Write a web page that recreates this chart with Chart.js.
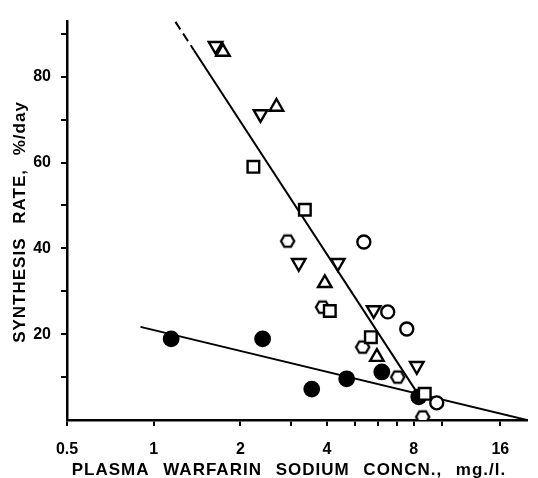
<!DOCTYPE html>
<html>
<head>
<meta charset="utf-8">
<script src="https://cdn.jsdelivr.net/npm/chart.js@4.4.0/dist/chart.umd.min.js"></script>
<style>
  body { margin: 0; background: #fff; }
  #chart { display: block; }
</style>
</head>
<body>
<canvas id="chart" width="538" height="478"></canvas>
<script>
// values (x: mg/l, log scale; y: %/day)
var xTitle = 'PLASMA WARFARIN SODIUM CONCN., mg./l.';
var yTitle = 'SYNTHESIS RATE, %/day';

var xLabelTicks = [0.5, 1, 2, 4, 8, 16];
var xMinorTicks = [3, 5, 6, 7, 10];
var yLabelTicks = [20, 40, 60, 80];
var yMinorTicks = [10, 30, 50, 70, 90];

var triDownX = [1.64, 2.35, 3.19, 4.36, 5.81, 8.2];
var triDownY = [87.2, 71.3, 36.6, 36.6, 25.6, 12.6];

var triUpX = [1.74, 2.67, 3.93, 5.96];
var triUpY = [85.8, 73.0, 31.9, 14.7];

var squareX = [2.22, 3.35, 4.09, 5.68, 8.74];
var squareY = [59.0, 49.0, 25.4, 19.3, 6.1];

var hexX = [2.92, 3.86, 5.32, 7.04, 8.6];
var hexY = [41.7, 26.3, 17.0, 10.0, 0.7];

var circleX = [5.37, 6.5, 7.57, 9.62];
var circleY = [41.5, 25.2, 21.2, 4.0];

var filledX = [1.15, 2.39, 3.54, 4.68, 6.2, 8.33];
var filledY = [18.9, 18.9, 7.2, 9.6, 11.2, 5.4];

// fitted lines
var steepDashX = [1.19, 1.38];
var steepDashY = [92.8, 86.2];
var steepX = [1.38, 8.2];
var steepY = [86.2, 6.5];
var shallowX = [0.9, 19.8];
var shallowY = [21.7, 0];

function pts(xs, ys) {
  return xs.map(function (x, i) { return { x: x, y: ys[i] }; });
}

function hexagonImage() {
  var c = document.createElement('canvas');
  c.width = 17; c.height = 17;
  var g = c.getContext('2d');
  g.beginPath();
  for (var i = 0; i < 6; i++) {
    var a = Math.PI / 3 * i;
    var px = 8.5 + 6.6 * Math.cos(a), py = 8.5 + 6.6 * Math.sin(a);
    if (i === 0) g.moveTo(px, py); else g.lineTo(px, py);
  }
  g.closePath();
  g.fillStyle = '#fff';
  g.fill();
  g.lineWidth = 2.3;
  g.strokeStyle = '#000';
  g.stroke();
  return c;
}

function markers(data, style, radius, extra) {
  var ds = {
    data: data,
    pointStyle: style,
    pointRadius: radius,
    pointBackgroundColor: '#fff',
    pointBorderColor: '#000',
    pointBorderWidth: 2.4,
    showLine: false,
    order: 1
  };
  for (var k in extra) ds[k] = extra[k];
  return ds;
}

function fitLine(data, dash) {
  return {
    data: data,
    showLine: true,
    borderColor: '#000',
    borderWidth: 2,
    borderDash: dash || [],
    pointRadius: 0,
    fill: false,
    order: 2
  };
}

var axisTitles = {
  id: 'axisTitles',
  afterDraw: function (chart) {
    var ctx = chart.ctx;
    ctx.save();
    ctx.fillStyle = '#000';
    ctx.font = 'bold 17px "Liberation Sans", Arial, sans-serif';
    ctx.letterSpacing = '1px';
    ctx.wordSpacing = '8px';
    ctx.textAlign = 'center';
    ctx.textBaseline = 'middle';
    ctx.fillText(xTitle, 289, 470);
    ctx.translate(20, 222);
    ctx.rotate(-Math.PI / 2);
    ctx.fillText(yTitle, 0, 0);
    ctx.restore();
  }
};

var tickFont = { family: '"Liberation Sans", Arial, sans-serif', size: 16, weight: 'bold' };

new Chart(document.getElementById('chart'), {
  type: 'scatter',
  data: {
    datasets: [
      fitLine(pts(steepDashX, steepDashY), [9, 5]),
      fitLine(pts(steepX, steepY)),
      fitLine(pts(shallowX, shallowY)),
      markers(pts(triDownX, triDownY), 'triangle', 7.8, { pointRotation: 180 }),
      markers(pts(triUpX, triUpY), 'triangle', 7.8),
      markers(pts(squareX, squareY), 'rect', 8.2),
      markers(pts(hexX, hexY), hexagonImage(), 7),
      markers(pts(circleX, circleY), 'circle', 6.5),
      markers(pts(filledX, filledY), 'circle', 7.2, { pointBackgroundColor: '#000' })
    ]
  },
  options: {
    responsive: false,
    animation: false,
    devicePixelRatio: 1,
    layout: { padding: { top: 21, right: 11, left: 0, bottom: 0 } },
    plugins: { legend: { display: false }, tooltip: { enabled: false } },
    scales: {
      x: {
        type: 'logarithmic',
        min: 0.5,
        max: 19.8,
        afterBuildTicks: function (s) {
          s.ticks = xLabelTicks.concat(xMinorTicks).sort(function (a, b) { return a - b; })
            .map(function (v) { return { value: v }; });
        },
        afterFit: function (s) { s.height = 58; },
        grid: { drawOnChartArea: false, drawTicks: true, tickLength: 6, color: '#000', lineWidth: 2 },
        border: { display: true, color: '#000', width: 2.5 },
        ticks: {
          autoSkip: false, maxRotation: 0, padding: 14, color: '#000', font: tickFont,
          callback: function (v) { return xLabelTicks.indexOf(v) >= 0 ? String(v) : ''; }
        },
        title: { display: false }
      },
      y: {
        min: 0,
        max: 93,
        afterBuildTicks: function (s) {
          s.ticks = yLabelTicks.concat(yMinorTicks).sort(function (a, b) { return a - b; })
            .map(function (v) { return { value: v }; });
        },
        afterFit: function (s) { s.width = 67; },
        grid: { drawOnChartArea: false, drawTicks: true, tickLength: 6, color: '#000', lineWidth: 2 },
        border: { display: true, color: '#000', width: 2.5 },
        ticks: {
          padding: 10, color: '#000', font: tickFont,
          callback: function (v) { return yLabelTicks.indexOf(v) >= 0 ? String(v) : ''; }
        },
        title: { display: false }
      }
    }
  },
  plugins: [axisTitles]
});
</script>
</body>
</html>
